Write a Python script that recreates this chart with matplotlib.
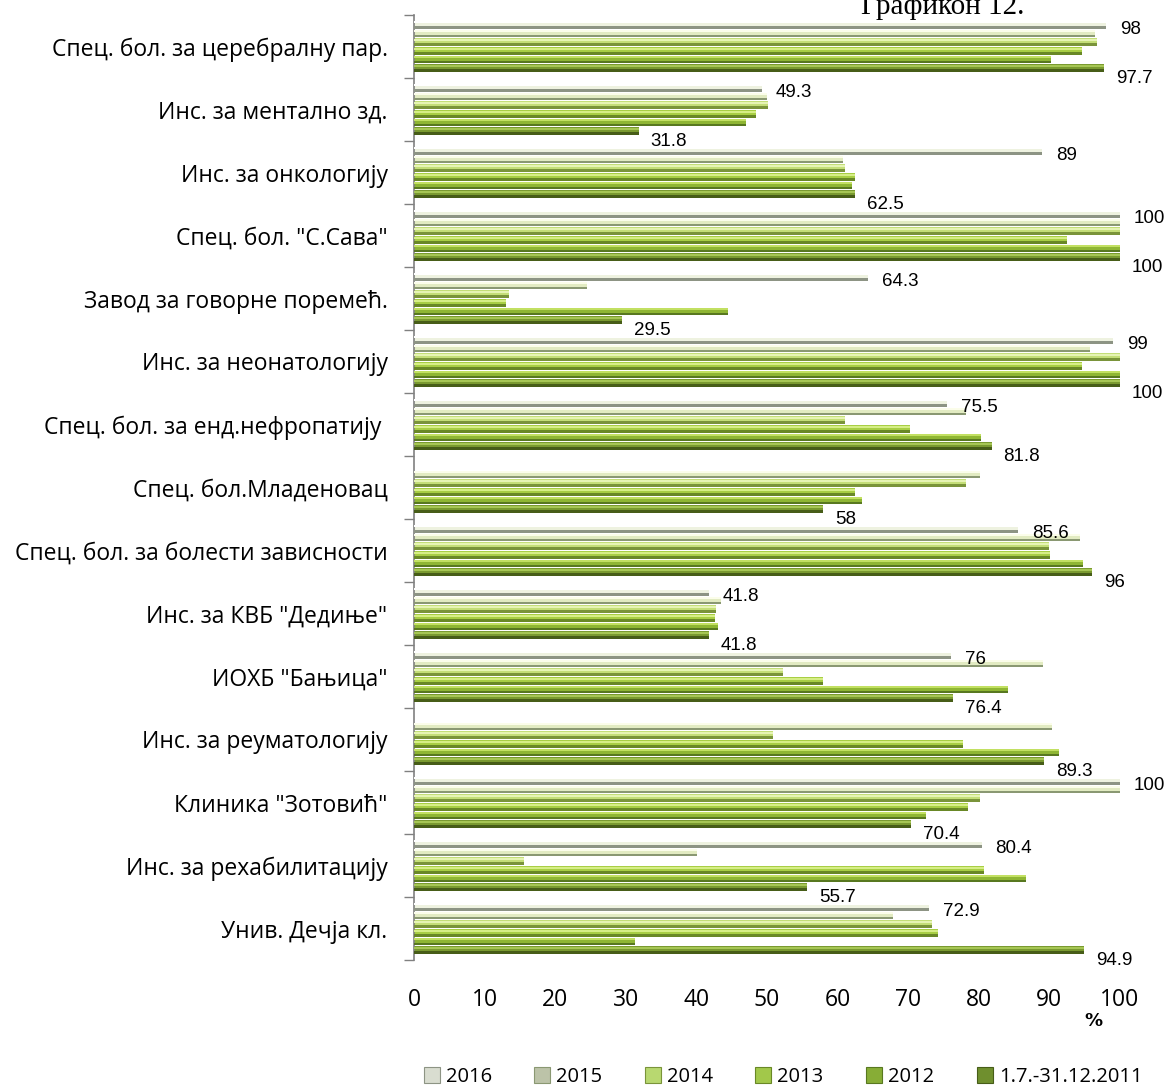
import numpy as np
import matplotlib
matplotlib.use('Agg')
import matplotlib.pyplot as plt
from matplotlib.patches import Patch

categories = ['Спец. бол. за церебралну пар.', 'Инс. за ментално зд.', 'Инс. за онкологију',
              'Спец. бол. "С.Сава"', 'Завод за говорне поремећ.', 'Инс. за неонатологију',
              'Спец. бол. за енд.нефропатију ', 'Спец. бол.Младеновац', 'Спец. бол. за болести зависности',
              'Инс. за КВБ "Дедиње"', 'ИОХБ "Бањица"', 'Инс. за реуматологију',
              'Клиника "Зотовић"', 'Инс. за рехабилитацију', 'Унив. Дечја кл.']
series = ['2016', '2015', '2014', '2013', '2012', '1.7.-31.12.2011']

v2016 = [98, 49.3, 89, 100, 64.3, 99, 75.5, np.nan, 85.6, 41.8, 76, np.nan, 100, 80.4, 72.9]
v2015 = [96.5, 50.0, 60.7, 100, 24.5, 95.7, 78.2, 80.1, 94.3, 43.5, 89.1, 90.3, 100, 40.1, 67.9]
v2014 = [96.8, 50.2, 61.0, 100, 13.4, 100, 61.0, 78.2, 89.9, 42.8, 52.3, 50.8, 80.1, 15.6, 73.4]
v2013 = [94.6, 48.4, 62.4, 92.5, 13.0, 94.6, 70.3, 62.5, 90.1, 42.7, 57.9, 77.8, 78.5, 80.7, 74.2]
v2012 = [90.2, 47.0, 62.0, 100, 44.5, 100, 80.3, 63.5, 94.8, 43.1, 84.2, 91.4, 72.5, 86.7, 31.3]
v2011 = [97.7, 31.8, 62.5, 100, 29.5, 100, 81.8, 58, 96, 41.8, 76.4, 89.3, 70.4, 55.7, 94.9]
values = [v2016, v2015, v2014, v2013, v2012, v2011]

# light top / face / dark bottom for the bevel look
light = ['#ffffff', '#fbfdea', '#e6f4b4', '#d6ee86', '#c2e062', '#a6c654']
face = ['#eef2e0', '#e2ebc2', '#c4de78', '#a8ce44', '#8fb634', '#7a9a30']
dark = ['#8d9484', '#8a9872', '#7a943a', '#698826', '#587820', '#475d18']
legend_colors = ['#d9ddd0', '#bcc3a8', '#b8d870', '#a2c84a', '#87ad36', '#6f8f2e']

fig = plt.figure(figsize=(11.68, 10.91), dpi=100)
ax = fig.add_axes([414 / 1168, 1 - 960 / 1091, 706 / 1168, 945 / 1091])

n = len(categories)
centers = np.arange(n) + 0.5
slot = 0.138
h = 0.122

for j in range(len(series)):
    y = centers + (j - 2.5) * slot
    vals = np.array(values[j], dtype=float)
    ax.barh(y, vals, height=h, color=face[j], linewidth=0, zorder=2)
    ax.barh(y - h * 0.3, vals, height=h * 0.25, color=light[j], linewidth=0, zorder=3)
    ax.barh(y + h * 0.32, vals, height=h * 0.36, color=dark[j], linewidth=0, zorder=3)

# data labels for first and last series
y16 = centers - 2.5 * slot
y11 = centers + 2.5 * slot
for i in range(n):
    if not np.isnan(v2016[i]):
        ax.annotate(f'{v2016[i]:g}', (v2016[i], y16[i]), xytext=(14, -5), textcoords='offset pixels',
                    ha='left', va='center', fontsize=13.5, family='Liberation Sans')
    ax.annotate(f'{v2011[i]:g}', (v2011[i], y11[i]), xytext=(12, -10), textcoords='offset pixels',
                ha='left', va='center', fontsize=13.5, family='Liberation Sans')

ax.set_xlim(0, 100)
ax.set_ylim(n, 0)
ax.set_xticks(range(0, 101, 10))
ax.set_yticks(centers)
ax.set_yticklabels(categories, fontsize=16.5, family='Open Sans')
ax.set_yticks(np.arange(n + 1), minor=True)
ax.tick_params(axis='y', which='major', length=0, pad=19)
ax.tick_params(axis='y', which='minor', length=7, color='#808080', width=1)
ax.tick_params(axis='x', length=0, pad=20, labelsize=16.5)
for lab in ax.get_xticklabels():
    lab.set_family('Open Sans')
for s in ['top', 'right', 'bottom']:
    ax.spines[s].set_visible(False)
ax.spines['left'].set_color('#808080')
ax.spines['left'].set_linewidth(1.2)

fig.text(1093 / 1168, 1 - 1021 / 1091, '%', ha='center', va='center', fontsize=13, fontweight='bold')
fig.text(943 / 1168, 1 - 14 / 1091, 'Графикон 12.', ha='center', va='baseline', fontsize=21,
         family='Liberation Serif')

handles = [Patch(facecolor=legend_colors[j], edgecolor=dark[j], linewidth=0.8, label=series[j])
           for j in range(len(series))]
leg = fig.legend(handles=handles, loc='center', bbox_to_anchor=(783 / 1168, 1 - 1077 / 1091), ncol=6,
                 frameon=False, handlelength=0.8, handleheight=0.8, handletextpad=0.3,
                 columnspacing=2.1, prop={'family': 'Open Sans', 'size': 14.5})

fig.savefig('out.png', dpi=100)
